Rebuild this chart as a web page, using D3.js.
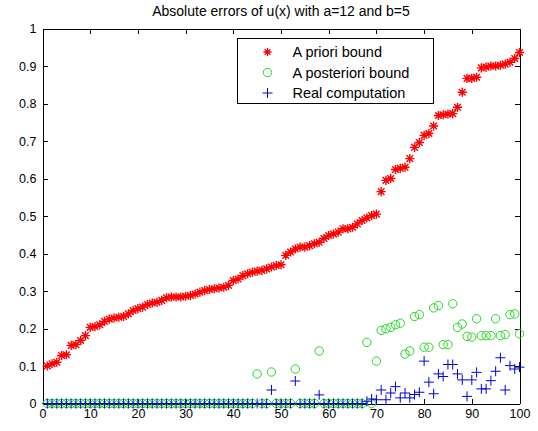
<!DOCTYPE html>
<html>
<head>
<meta charset="utf-8">
<script src="https://cdn.jsdelivr.net/npm/d3@7"></script>
<style>
  body { margin: 0; background: #fff; }
  svg { display: block; font-family: "Liberation Sans", Arial, sans-serif; }
  .axis text { font-size: 12.5px; fill: #000; }
  .axis path, .axis line { stroke: #000; shape-rendering: crispEdges; }
</style>
</head>
<body>
<svg id="chart"></svg>
<script>

// x positions of the samples
var xIndex = [
  1,2,3,4,5,6,7,8,9,10,11,12,13,14,15,16,17,18,19,20,
  21,22,23,24,25,26,27,28,29,30,31,32,33,34,35,36,37,38,39,40,
  41,42,43,44,45,46,47,48,49,50,51,52,53,54,55,56,57,58,59,60,
  61,62,63,64,65,66,67,68,69,70,71,72,73,74,75,76,77,78,79,80,
  81,82,83,84,85,86,87,88,89,90,91,92,93,94,95,96,97,98,99,100
];

// A priori bound (red *)
var aPriori = [
  0.100,0.106,0.110,0.128,0.130,0.155,0.157,0.168,0.181,0.203,
  0.205,0.210,0.219,0.225,0.228,0.230,0.232,0.239,0.248,0.253,
  0.257,0.264,0.268,0.270,0.275,0.282,0.284,0.284,0.284,0.286,
  0.288,0.292,0.297,0.301,0.304,0.306,0.308,0.310,0.315,0.328,
  0.332,0.341,0.346,0.350,0.353,0.355,0.359,0.364,0.368,0.370,
  0.395,0.404,0.412,0.417,0.417,0.421,0.426,0.430,0.440,0.448,
  0.452,0.457,0.466,0.466,0.470,0.479,0.488,0.495,0.501,0.505,
  0.565,0.595,0.600,0.624,0.627,0.630,0.653,0.683,0.696,0.715,
  0.720,0.740,0.768,0.770,0.772,0.773,0.790,0.830,0.867,0.867,
  0.870,0.895,0.897,0.900,0.900,0.902,0.905,0.910,0.920,0.936
];

// A posteriori bound (green o)
var aPosteriori = [
  0,0,0,0,0,0,0,0,0,0,
  0,0,0,0,0,0,0,0,0,0,
  0,0,0,0,0,0,0,0,0,0,
  0,0,0,0,0,0,0,0,0,0,
  0,0,0,0,0.079,0,0,0.084,0,0,
  0,0,0.092,0,0,0,0,0.140,0,0,
  0,0,0,0,0,0,0,0.163,0,0.113,
  0.195,0.199,0.203,0.210,0.214,0.132,0.140,0.232,0.237,0.150,
  0.150,0.255,0.261,0.157,0.157,0.266,0.203,0.212,0.179,0.177,
  0.226,0.181,0.181,0.181,0.226,0.181,0.184,0.237,0.239,0.186
];

// Real computation (blue +)
var realComp = [
  0,0,0,0,0,0,0,0,0,0,
  0,0,0,0,0,0,0,0,0,0,
  0,0,0,0,0,0,0,0,0,0,
  0,0,0,0,0,0,0,0,0,0,
  0,0,0,0,0,0,0,0.036,0,0,
  0,0,0.060,0,0,0,0,0.023,0,0,
  0,0,0,0,0,0,0,0.006,0.012,0.010,
  0.036,0.010,0.028,0.045,0.015,0.028,0.015,0.024,0.030,0.113,
  0.057,0.026,0.079,0.072,0.104,0.104,0.079,0.063,0.019,0.063,
  0.083,0.039,0.039,0.061,0.086,0.122,0.036,0.101,0.092,0.097
];

var xTicks = [0,10,20,30,40,50,60,70,80,90,100];
var yTicks = [0,0.1,0.2,0.3,0.4,0.5,0.6,0.7,0.8,0.9,1];
var yTickLabels = ["0","0.1","0.2","0.3","0.4","0.5","0.6","0.7","0.8","0.9","1"];
var titleText = "Absolute errors of u(x) with a=12 and b=5";
var legendLabels = ["A priori bound", "A posteriori bound", "Real computation"];

var drawChart = function() {
  var width = 538, height = 431;
  var mLeft = 42.5, mRight = 519.5, mTop = 28.5, mBottom = 403.5;

  var svg = d3.select("#chart").attr("width", width).attr("height", height);

  var xScale = d3.scaleLinear().domain([0, 100]).range([mLeft, mRight]);
  var yScale = d3.scaleLinear().domain([0, 1]).range([mBottom, mTop]);

  // axes, ticks pointing inward like matlab
  svg.append("g").attr("class", "axis")
    .attr("transform", `translate(0, ${mBottom})`)
    .call(d3.axisBottom(xScale).tickValues(xTicks).tickFormat(d3.format("d"))
      .tickSizeInner(-5).tickSizeOuter(0).tickPadding(6));

  svg.append("g").attr("class", "axis")
    .attr("transform", `translate(0, ${mTop})`)
    .call(d3.axisTop(xScale).tickValues(xTicks).tickFormat("")
      .tickSizeInner(-5).tickSizeOuter(0));

  svg.append("g").attr("class", "axis")
    .attr("transform", `translate(${mLeft}, 0)`)
    .call(d3.axisLeft(yScale).tickValues(yTicks).tickFormat((d, i) => yTickLabels[i])
      .tickSizeInner(-5).tickSizeOuter(0).tickPadding(6));

  svg.append("g").attr("class", "axis")
    .attr("transform", `translate(${mRight}, 0)`)
    .call(d3.axisRight(yScale).tickValues(yTicks).tickFormat("")
      .tickSizeInner(-5).tickSizeOuter(0));

  svg.append("text")
    .attr("x", (mLeft + mRight) / 2)
    .attr("y", 16)
    .attr("text-anchor", "middle")
    .attr("font-size", "14px")
    .text(titleText);

  // marker shapes
  var starPath = function(s) {
    var d = s * 0.72;
    return `M${-s},0L${s},0M0,${-s}L0,${s}M${-d},${-d}L${d},${d}M${-d},${d}L${d},${-d}`;
  };
  var plusPath = function(s) {
    return `M${-s},0L${s},0M0,${-s}L0,${s}`;
  };

  var red = "#ff0000", green = "#22dd22", blue = "#0000dd";

  var plot = svg.append("g");

  plot.selectAll(".post")
    .data(xIndex)
    .enter()
    .append("circle")
    .attr("cx", d => xScale(d))
    .attr("cy", (d, i) => yScale(aPosteriori[i]))
    .attr("r", 4.2)
    .attr("fill", "none")
    .attr("stroke", green)
    .attr("stroke-width", 1);

  plot.selectAll(".real")
    .data(xIndex)
    .enter()
    .append("path")
    .attr("transform", (d, i) => `translate(${xScale(d)}, ${yScale(realComp[i])})`)
    .attr("d", plusPath(5))
    .attr("stroke", blue)
    .attr("stroke-width", 1)
    .attr("fill", "none");

  plot.selectAll(".prior")
    .data(xIndex)
    .enter()
    .append("path")
    .attr("transform", (d, i) => `translate(${xScale(d)}, ${yScale(aPriori[i])})`)
    .attr("d", starPath(4.6))
    .attr("stroke", red)
    .attr("stroke-width", 1.4)
    .attr("fill", "none");

  // legend
  var legend = svg.append("g").attr("transform", "translate(237.5, 38.5)");
  legend.append("rect")
    .attr("width", 196).attr("height", 65)
    .attr("fill", "#fff").attr("stroke", "#000").attr("shape-rendering", "crispEdges");

  legendLabels.forEach(function(label, i) {
    var cy = 13.5 + i * 20.5;
    var g = legend.append("g").attr("transform", `translate(30, ${cy})`);
    if (i == 0) {
      g.append("path").attr("d", starPath(4)).attr("stroke", red).attr("stroke-width", 1.3);
    } else if (i == 1) {
      g.append("circle").attr("r", 4.2).attr("fill", "none").attr("stroke", green);
    } else {
      g.append("path").attr("d", plusPath(5)).attr("stroke", blue);
    }
    legend.append("text")
      .attr("x", 55)
      .attr("y", cy)
      .attr("dy", "0.35em")
      .attr("font-size", "14.5px")
      .text(label);
  });
};

window.onload = drawChart;

</script>
</body>
</html>
